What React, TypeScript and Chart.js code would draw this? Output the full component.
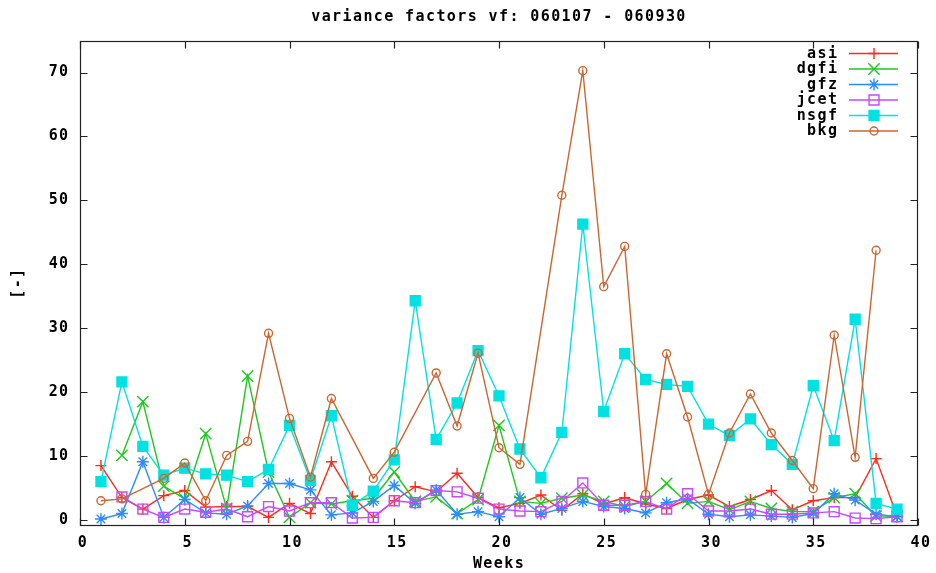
import React, { useEffect, useRef } from 'react';
import { Chart, registerables } from 'chart.js';
import { drawPoint } from 'chart.js/helpers';

Chart.register(...registerables);

// ---- data ----
const chartTitle = 'variance factors vf: 060107 - 060930';
const xTitle = 'Weeks';
const yTitle = '[-]';
const xTicks = [0, 5, 10, 15, 20, 25, 30, 35, 40];
const yTicks = [0, 10, 20, 30, 40, 50, 60, 70];
const weeks = [1, 2, 3, 4, 5, 6, 7, 8, 9, 10, 11, 12, 13, 14, 15, 16, 17, 18, 19, 20,
  21, 22, 23, 24, 25, 26, 27, 28, 29, 30, 31, 32, 33, 34, 35, 36, 37, 38, 39];
const seriesNames = ['asi', 'dgfi', 'gfz', 'jcet', 'nsgf', 'bkg'];

const asi = [8.5, 3.5, 1.7, 3.8, 4.6, 2.0, 2.1, 2.1, 0.4, 2.6, 1.0, 9.1, 3.7, 0.4, 3.0, 5.2, 4.4, 7.3, 3.5, 1.9,
  2.6, 3.9, 1.5, 4.1, 2.5, 3.5, 2.5, 1.8, 3.2, 3.9, 2.1, 3.2, 4.6, 1.6, 3.0, 3.5, 3.5, 9.6, 0.6];
const dgfi = [null, 10.1, 18.5, 5.3, 3.3, 13.5, 1.8, 22.5, 7.5, 0.4, 2.7, 2.5, 3.0, 3.4, 7.5, 2.9, 3.6, 1.0, 3.2, 14.8,
  2.9, 2.6, 3.4, 3.9, 2.9, 2.1, 2.9, 5.7, 2.6, 2.9, 1.6, 2.9, 1.8, 1.3, 1.3, 3.5, 4.1, 0.6, 0.6];
const gfz = [0.15, 1.0, 9.1, 0.4, 3.2, 1.1, 0.9, 2.2, 5.7, 5.7, 4.7, 0.8, 1.1, 2.9, 5.4, 2.6, 4.7, 0.9, 1.3, 0.5,
  3.5, 0.9, 1.8, 2.9, 2.1, 1.8, 1.1, 2.7, 3.3, 0.9, 0.5, 0.8, 0.6, 0.4, 1.0, 4.1, 3.1, 0.9, 0.5];
const jcet = [null, 3.6, 1.7, 0.4, 1.7, 1.2, 1.7, 0.5, 2.1, 1.4, 2.7, 2.7, 0.3, 0.4, 3.0, 2.7, 4.6, 4.4, 3.4, 1.7,
  1.4, 1.3, 2.9, 5.8, 2.3, 2.3, 2.9, 1.7, 4.1, 1.4, 1.4, 1.7, 0.9, 0.9, 1.1, 1.3, 0.3, 0.2, 0.5];
const nsgf = [6.0, 21.6, 11.5, 7.0, 8.1, 7.2, 7.0, 6.0, 7.9, 14.8, 6.2, 16.3, 2.3, 4.5, 9.4, 34.3, 12.6, 18.3, 26.5, 19.4,
  11.1, 6.6, 13.7, 46.3, 17.0, 26.0, 22.0, 21.2, 20.9, 15.0, 13.2, 15.8, 11.8, 8.7, 21.0, 12.4, 31.4, 2.6, 1.7];
const bkg = [3.0, 3.3, null, 6.5, 8.9, 3.0, 10.1, 12.3, 29.2, 15.9, 6.7, 19.0, null, 6.5, 10.6, null, 23.0, 14.7, 26.1, 11.3,
  8.7, null, 50.8, 70.3, 36.5, 42.8, 4.0, 26.0, 16.1, 4.0, 13.6, 19.7, 13.6, 9.3, 4.9, 28.9, 9.8, 42.2, null];

const seriesValues = [asi, dgfi, gfz, jcet, nsgf, bkg];

// ---- styles ----
const FONT = 'DejaVu Sans Mono';
const FONT_SIZE = 15;
const LETTER_SPACING = '1.4px';
const styles = [
  { color: '#ff2a1a', fill: '#ff2a1a', point: 'cross', radius: 5.5 },
  { color: '#1ec81e', fill: '#1ec81e', point: 'crossRot', radius: 8 },
  { color: '#2a8cff', fill: '#2a8cff', point: 'star', radius: 6 },
  { color: '#c848ff', fill: 'rgba(0,0,0,0)', point: 'rect', radius: 7 },
  { color: '#00e2e2', fill: '#00e2e2', point: 'rect', radius: 7 },
  { color: '#cc6630', fill: 'rgba(0,0,0,0)', point: 'circle', radius: 4 },
];

const gnuPlugin = {
  id: 'gnuFrame',
  beforeDraw(chart: any) {
    chart.ctx.letterSpacing = LETTER_SPACING;
  },
  afterDatasetsDraw(chart: any) {
    const ctx = chart.ctx;
    const { left, right, top, bottom } = chart.chartArea;
    const xs = chart.scales.x;
    const ys = chart.scales.y;
    ctx.save();
    ctx.strokeStyle = '#222';
    ctx.lineWidth = 1.2;
    const L = Math.round(left) + 0.5;
    const R = Math.round(right) - 0.5;
    const T = Math.round(top) + 0.5;
    const B = Math.round(bottom) - 0.5;
    ctx.strokeRect(L, T, R - L, B - T);
    ctx.beginPath();
    const tl = 7;
    yTicks.forEach((v) => {
      const y = Math.round(ys.getPixelForValue(v)) + 0.5;
      ctx.moveTo(L, y); ctx.lineTo(L + tl, y);
      ctx.moveTo(R, y); ctx.lineTo(R - tl, y);
    });
    xTicks.forEach((v) => {
      const x = Math.round(xs.getPixelForValue(v)) + 0.5;
      ctx.moveTo(x, B); ctx.lineTo(x, B - tl);
      ctx.moveTo(x, T); ctx.lineTo(x, T + tl);
    });
    ctx.stroke();
    ctx.restore();
  },
  afterDraw(chart: any) {
    const ctx = chart.ctx;
    ctx.save();
    ctx.font = `bold ${FONT_SIZE}px "${FONT}"`;
    ctx.letterSpacing = LETTER_SPACING;
    ctx.textAlign = 'right';
    ctx.textBaseline = 'middle';
    chart.data.datasets.forEach((ds: any, i: number) => {
      const y = 53.5 + i * 15.5;
      ctx.fillStyle = '#000';
      ctx.fillText(ds.label, 838.4, y + 0.5);
      ctx.strokeStyle = ds.borderColor;
      ctx.lineWidth = 1.4;
      ctx.beginPath();
      ctx.moveTo(849, y);
      ctx.lineTo(898, y);
      ctx.stroke();
      ctx.fillStyle = ds.pointBackgroundColor;
      ctx.strokeStyle = ds.pointBorderColor;
      drawPoint(ctx, { pointStyle: ds.pointStyle, radius: ds.pointRadius, rotation: 0, borderWidth: 1.4 }, 874, y);
    });
    ctx.restore();
  },
};

export default function App() {
  const ref = useRef<HTMLCanvasElement>(null);
  useEffect(() => {
    if (!ref.current) return;
    const datasets = seriesNames.map((name, i) => {
      const vals = seriesValues[i];
      const st = styles[i];
      const data = weeks
        .map((w, j) => ({ x: w, y: vals[j] }))
        .filter((p) => p.y !== null);
      return {
        label: name,
        data,
        borderColor: st.color,
        backgroundColor: st.fill,
        borderWidth: 1.4,
        pointStyle: st.point,
        pointRadius: st.radius,
        pointBorderWidth: 1.4,
        pointBorderColor: st.color,
        pointBackgroundColor: st.fill,
        tension: 0,
        fill: false,
        order: 5 - i,
      };
    });
    const tickFont = { family: FONT, size: FONT_SIZE, weight: 'bold' as const };
    const chart = new Chart(ref.current, {
      type: 'line',
      data: { datasets: datasets as any },
      options: {
        animation: false,
        responsive: false,
        devicePixelRatio: 1,
        events: [],
        layout: { padding: { left: 0, right: 18, top: 0, bottom: 0 } },
        plugins: {
          legend: { display: false },
          tooltip: { enabled: false },
          title: {
            display: true,
            text: chartTitle,
            fullSize: false,
            color: '#000',
            font: tickFont,
            padding: { top: 8, bottom: 14.6 },
          },
        },
        scales: {
          x: {
            type: 'linear',
            min: 0,
            max: 40,
            afterBuildTicks: (s: any) => { s.ticks = xTicks.map((v) => ({ value: v })); },
            afterFit: (s: any) => { s.height = 47.3; },
            grid: { display: false, drawTicks: false },
            border: { display: false },
            ticks: { color: '#000', font: tickFont, padding: 8, maxRotation: 0, autoSkip: false, labelOffset: 3 },
            title: { display: true, text: xTitle, color: '#000', font: tickFont, padding: { top: 0, bottom: 0 } },
          },
          y: {
            type: 'linear',
            min: -0.9,
            max: 75,
            afterBuildTicks: (s: any) => { s.ticks = yTicks.map((v) => ({ value: v })); },
            afterFit: (s: any) => { s.width = 80; },
            grid: { display: false, drawTicks: false },
            border: { display: false },
            ticks: { color: '#000', font: tickFont, padding: 10.5, autoSkip: false },
            title: { display: true, text: yTitle, color: '#000', font: tickFont, padding: { top: 9, bottom: 0 } },
          },
        },
      },
      plugins: [gnuPlugin],
    } as any);
    return () => chart.destroy();
  }, []);
  return (
    <div style={{ position: 'fixed', left: 0, top: 0, width: 936, height: 573, background: '#fff' }}>
      <canvas ref={ref} width={936} height={573} style={{ display: 'block' }} />
    </div>
  );
}
